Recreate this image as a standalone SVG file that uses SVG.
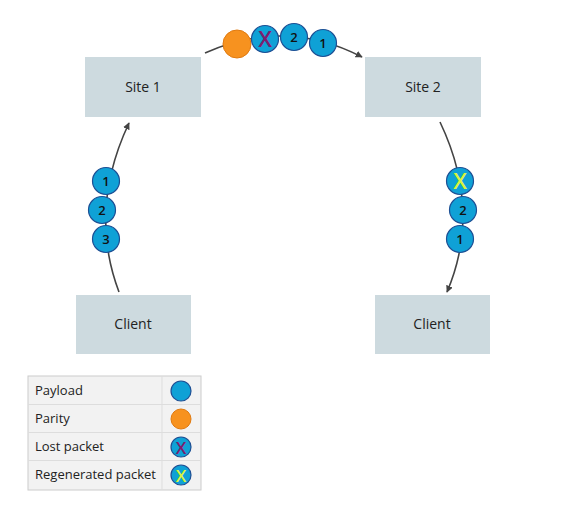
<svg xmlns="http://www.w3.org/2000/svg" width="566" height="514" viewBox="0 0 566 514">
<style>
.box{fill:#cddadf}
.lbl{font-family:"Open Sans","Liberation Sans",sans-serif;font-size:14px;fill:#222;text-anchor:middle}
.num{font-family:"Open Sans","Liberation Sans",sans-serif;font-size:13px;font-weight:600;fill:#111;text-anchor:middle}
.pay{fill:#0fa1d6;stroke:#1d4f94;stroke-width:1.2}
.par{fill:#f7921f;stroke:#e07a10;stroke-width:1}
.xl{font-family:"Open Sans","Liberation Sans",sans-serif;font-size:22px;font-weight:600;text-anchor:middle}
.lost{fill:#7d1d6e}
.regen{fill:#d9f43c}
.conn{fill:none;stroke:#444;stroke-width:1.6}
.leg{font-family:"Open Sans","Liberation Sans",sans-serif;font-size:13px;fill:#222}
</style>
<defs>
<marker id="ah" viewBox="0 0 10 10" refX="9" refY="5" markerWidth="7" markerHeight="7" orient="auto" markerUnits="userSpaceOnUse">
<path d="M0,0 L10,5 L0,10 z" fill="#444"/>
</marker>
</defs>
<rect width="566" height="514" fill="#fff"/>
<g id="connectors">
<path class="conn" d="M119,292 Q88,210 129,123" marker-end="url(#ah)"/>
<path class="conn" d="M205,53 Q285,17 362,57" marker-end="url(#ah)"/>
<path class="conn" d="M440,122 Q482,210 447,292" marker-end="url(#ah)"/>
</g>
<g id="site1"><rect class="box" x="85" y="57" width="116" height="60"/><text class="lbl" x="143" y="92">Site 1</text></g>
<g id="site2"><rect class="box" x="365" y="57" width="116" height="60"/><text class="lbl" x="423" y="92">Site 2</text></g>
<g id="client1"><rect class="box" x="76" y="295" width="115" height="59"/><text class="lbl" x="133" y="329">Client</text></g>
<g id="client2"><rect class="box" x="375" y="295" width="115" height="59"/><text class="lbl" x="432" y="329">Client</text></g>
<g id="packets-top">
<circle class="par" cx="237" cy="44" r="14"/>
<circle class="pay" cx="265" cy="39" r="13.5"/><text class="xl lost" x="265" y="47">X</text>
<circle class="pay" cx="294" cy="37" r="13.5"/><text class="num" x="294" y="42">2</text>
<circle class="pay" cx="323" cy="43" r="13.5"/><text class="num" x="323" y="48">1</text>
</g>
<g id="packets-left">
<circle class="pay" cx="106" cy="181" r="13.5"/><text class="num" x="106" y="186">1</text>
<circle class="pay" cx="102" cy="210" r="13.5"/><text class="num" x="102" y="215">2</text>
<circle class="pay" cx="106" cy="239" r="13.5"/><text class="num" x="106" y="244">3</text>
</g>
<g id="packets-right">
<circle class="pay" cx="460" cy="181" r="13.5"/><text class="xl regen" x="460" y="189">X</text>
<circle class="pay" cx="463" cy="210" r="13.5"/><text class="num" x="463" y="215">2</text>
<circle class="pay" cx="460" cy="239" r="13.5"/><text class="num" x="460" y="244">1</text>
</g>
<g id="legend">
<rect x="28" y="376" width="173" height="114" fill="#f2f2f2" stroke="#cccccc" stroke-width="1"/>
<line x1="162" y1="376" x2="162" y2="490" stroke="#dddddd"/>
<line x1="28" y1="404.5" x2="201" y2="404.5" stroke="#dddddd"/>
<line x1="28" y1="432.5" x2="201" y2="432.5" stroke="#dddddd"/>
<line x1="28" y1="460.5" x2="201" y2="460.5" stroke="#dddddd"/>
<text class="leg" x="35" y="395">Payload</text>
<text class="leg" x="35" y="423">Parity</text>
<text class="leg" x="35" y="451">Lost packet</text>
<text class="leg" x="35" y="479">Regenerated packet</text>
<circle class="pay" cx="181" cy="391" r="10"/>
<circle class="par" cx="181" cy="419" r="10"/>
<circle class="pay" cx="181" cy="447" r="10"/><text class="xl lost" x="181" y="454" style="font-size:17px">X</text>
<circle class="pay" cx="181" cy="475" r="10"/><text class="xl regen" x="181" y="482" style="font-size:17px">X</text>
</g>
</svg>
